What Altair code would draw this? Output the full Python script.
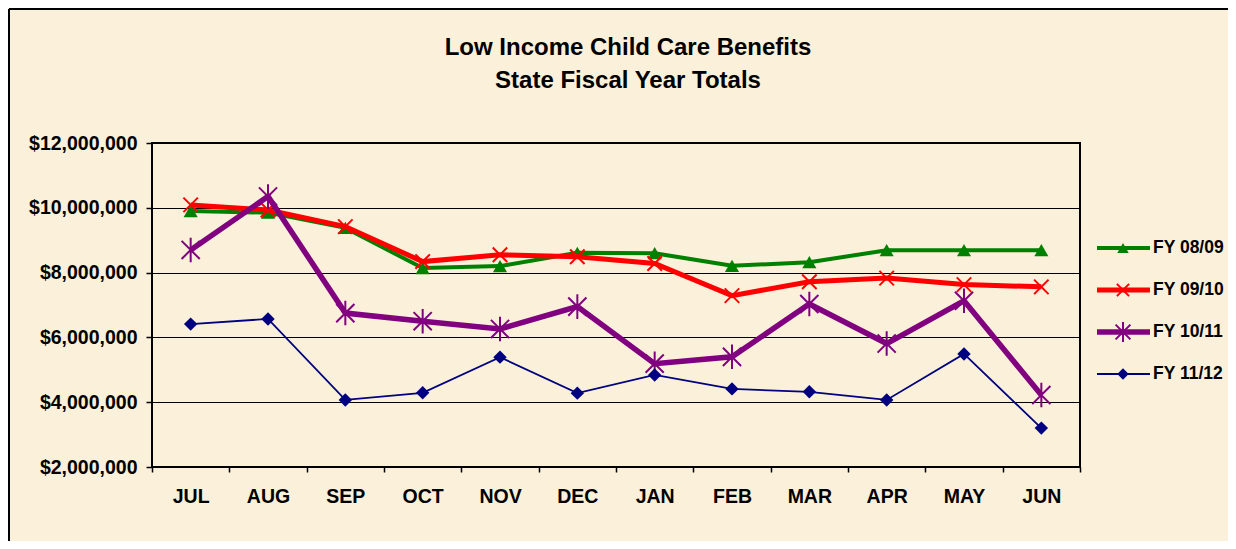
import altair as alt
import pandas as pd

months = ["JUL", "AUG", "SEP", "OCT", "NOV", "DEC", "JAN", "FEB", "MAR", "APR", "MAY", "JUN"]
series_names = ["FY 08/09", "FY 09/10", "FY 10/11", "FY 11/12"]
fy0809 = [9.90, 9.85, 9.38, 8.14, 8.20, 8.61, 8.60, 8.21, 8.32, 8.69, 8.69, 8.69]
fy0910 = [10.09, 9.93, 9.42, 8.34, 8.55, 8.49, 8.28, 7.29, 7.72, 7.83, 7.63, 7.56]
fy1011 = [8.70, 10.35, 6.75, 6.50, 6.26, 6.95, 5.19, 5.40, 7.03, 5.81, 7.13, 4.22]
fy1112 = [6.41, 6.57, 4.07, 4.29, 5.39, 4.28, 4.84, 4.41, 4.32, 4.07, 5.49, 3.20]
y_ticks = [2e6, 4e6, 6e6, 8e6, 10e6, 12e6]
title_lines = ["Low Income Child Care Benefits", "State Fiscal Year Totals"]

colors = ["#008000", "#FF0000", "#800080", "#000080"]
widths = [4, 5, 5.5, 1.8]
shapes = ["triangle-up", "M-1,-1L1,1M-1,1L1,-1", "M-1,-1L1,1M-1,1L1,-1M0,-1.35L0,1.35", "diamond"]
filled = [True, False, False, True]
sizes = [200, 210, 330, 180]
leg_sizes = [130, 150, 220, 130]

rows = []
for name, vals in zip(series_names, [fy0809, fy0910, fy1011, fy1112]):
    for m, v in zip(months, vals):
        rows.append({"series": name, "month": m, "value": v * 1e6})
df = pd.DataFrame(rows)
leg_df = pd.DataFrame({"series": series_names})
title_df = pd.DataFrame({"line": title_lines, "row": [0, 1]})
frame_df = pd.DataFrame({"k": [0]})

FONT = "Liberation Sans"
AFS = 19.5
LFS = 17.5

x_enc = alt.X("month:N", sort=months,
              scale=alt.Scale(type="band", paddingInner=0, paddingOuter=0),
              axis=alt.Axis(title=None, labelAngle=0, tickBand="extent", ticks=True,
                            tickSize=5, tickWidth=1.5, tickColor="black", domain=False,
                            grid=False, labelFont=FONT, labelFontSize=AFS,
                            labelFontWeight="bold", labelColor="black", labelPadding=15))
y_enc = alt.Y("value:Q",
              scale=alt.Scale(domain=[2e6, 12e6], nice=False, zero=False),
              axis=alt.Axis(title=None, values=y_ticks, format="$,.0f", grid=True,
                            gridColor="black", gridWidth=1, tickSize=6, tickWidth=1.5,
                            tickColor="black", domain=False, labelFont=FONT,
                            labelFontSize=AFS, labelFontWeight="bold", labelColor="black",
                            labelPadding=9))

main_layers = []
legend_layers = []
leg_y = alt.Y("series:N", scale=alt.Scale(type="point", domain=series_names,
                                          range=[105, 231], padding=0), axis=None)
for name, c, w, s, f, sz, lsz in zip(series_names, colors, widths, shapes, filled, sizes, leg_sizes):
    base = alt.Chart(df).transform_filter(alt.datum.series == name)
    main_layers.append(base.mark_line(color=c, strokeWidth=w).encode(x=x_enc, y=y_enc))
    main_layers.append(base.mark_point(shape=s, filled=f, color=c, size=sz, strokeWidth=2,
                                       opacity=1).encode(x=x_enc, y=y_enc))
    lb = alt.Chart(leg_df).transform_filter(alt.datum.series == name)
    legend_layers.append(lb.mark_rule(color=c, strokeWidth=w).encode(
        x=alt.value(945), x2=alt.value(998), y=leg_y))
    legend_layers.append(lb.mark_point(shape=s, filled=f, color=c, size=lsz, strokeWidth=2,
                                       opacity=1).encode(x=alt.value(971), y=leg_y))
    legend_layers.append(lb.mark_text(align="left", baseline="middle", font=FONT, fontSize=LFS,
                                      fontWeight="bold", color="black").encode(
        x=alt.value(1001), y=leg_y, text="series:N"))

title_y = alt.Y("row:O", scale=alt.Scale(type="point", domain=[0, 1], range=[-88, -55],
                                         padding=0), axis=None)
title_layer = alt.Chart(title_df).mark_text(
    align="center", baseline="alphabetic", font=FONT, fontSize=24, fontWeight="bold",
    color="black").encode(x=alt.value(476), y=title_y, text="line:N")

frame_left = alt.Chart(frame_df).mark_rule(color="black", strokeWidth=2).encode(
    x=alt.value(-143), y=alt.value(-134), y2=alt.value(406))
frame_top = alt.Chart(frame_df).mark_rule(color="black", strokeWidth=2).encode(
    x=alt.value(-143), x2=alt.value(1076), y=alt.value(-134))

chart = alt.layer(alt.layer(*main_layers), alt.layer(*legend_layers), title_layer,
                  frame_left, frame_top).resolve_scale(
    y="independent"
).properties(
    width=928, height=324,
    padding={"left": 144, "top": 135, "right": 148, "bottom": 74},
    autosize=alt.AutoSizeParams(type="none"),
).configure(background="#FBF0D9").configure_view(stroke="black", strokeWidth=2)

chart.save("out.html", embed_options={"renderer": "svg", "actions": False})
